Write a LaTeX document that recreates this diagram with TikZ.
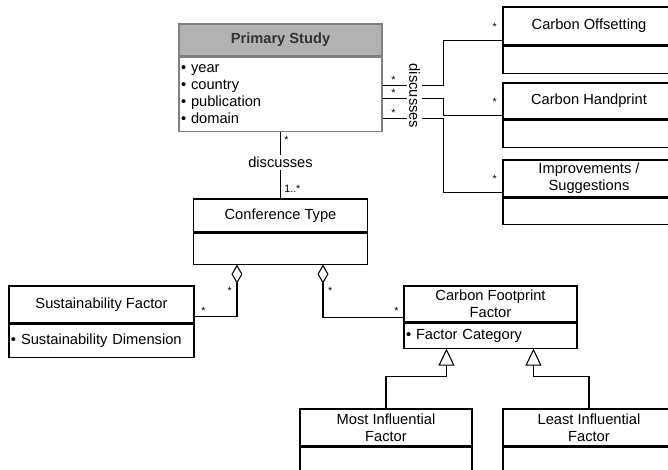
\documentclass[tikz,border=0pt]{standalone}
\usepackage{fontspec}
\setmainfont{Liberation Sans}
\usetikzlibrary{positioning, fit, calc, arrows.meta}
\definecolor{studygray}{RGB}{178,178,178}
\definecolor{studyframe}{RGB}{128,128,128}
\tikzset{
    classhead/.style={draw, inner sep=0pt, align=center, font=\fontsize{11}{12.75}\selectfont},
    classbody/.style={draw, anchor=north, inner xsep=1.5pt, inner ysep=0pt, align=left, font=\fontsize{11}{12.75}\selectfont},
    mult/.style={font=\fontsize{8}{9}\selectfont, inner sep=1.5pt},
    rolename/.style={fill=white, inner sep=1.5pt, font=\fontsize{11}{12.75}\selectfont},
    aggr/.style={arrows={Diamond[open, length=14.25pt, width=8.25pt]-}},
    inherit/.style={arrows={-Triangle[open, length=12.75pt, width=12pt]}},
}

\begin{document}
\begin{tikzpicture}[x=0.75pt, y=-0.75pt, line width=0.8pt]
        \useasboundingbox (0,0) rectangle (668,469);
        \clip (0,0) rectangle (668,469);

        % classes
        \node [classhead, draw=studyframe, fill=studygray, minimum width=152.25pt, minimum height=24pt, font=\fontsize{11}{12.75}\selectfont\bfseries, text=black!80] (psh) at (280.5, 40) {Primary Study};
        \node [classbody, draw=studyframe, text width=149.25pt, minimum height=55.5pt] (psb) at (psh.south) {• year\\• country\\• publication\\• domain};

        \node [classhead, minimum width=130.5pt, minimum height=24.75pt] (cth) at (280.5, 215.5) {Conference Type};
        \node [classbody, minimum width=130.5pt, minimum height=23.25pt] (ctb) at (cth.south) {};

        \node [classhead, minimum width=129pt, minimum height=28.5pt] (coh) at (589, 26) {Carbon Offsetting};
        \node [classbody, minimum width=129pt, minimum height=20.25pt] (cob) at (coh.south) {};
        \node [fit=(coh)(cob), inner sep=0pt] (co) {};

        \node [classhead, minimum width=129pt, minimum height=27pt] (chh) at (589, 101) {Carbon Handprint};
        \node [classbody, minimum width=129pt, minimum height=20.25pt] (chb) at (chh.south) {};
        \node [fit=(chh)(chb), inner sep=0pt] (ch) {};

        \node [classhead, minimum width=129pt, minimum height=27.75pt] (ish) at (589, 178.5) {Improvements /\\Suggestions};
        \node [classbody, minimum width=129pt, minimum height=19.5pt] (isb) at (ish.south) {};
        \node [fit=(ish)(isb), inner sep=0pt] (is) {};

        \node [classhead, minimum width=138.75pt, minimum height=27.75pt] (sfh) at (101.5, 304.5) {Sustainability Factor};
        \node [classbody, text width=135.75pt, minimum height=24.75pt] (sfb) at (sfh.south) {• Sustainability Dimension};
        \node [fit=(sfh)(sfb), inner sep=0pt] (sf) {};

        \node [classhead, minimum width=129.75pt, minimum height=27pt] (cffh) at (490.5, 304) {Carbon Footprint\\Factor};
        \node [classbody, text width=126.75pt, minimum height=18.75pt] (cffb) at (cffh.south) {• Factor Category};
        \node [fit=(cffh)(cffb), inner sep=0pt] (cff) {};

        \node [classhead, minimum width=129pt, minimum height=27.75pt] (mih) at (386, 427.5) {Most Influential\\Factor};
        \node [classbody, minimum width=129pt, minimum height=25.5pt] (mib) at (mih.south) {};

        \node [classhead, minimum width=129pt, minimum height=27.75pt] (lih) at (589, 427.5) {Least Influential\\Factor};
        \node [classbody, minimum width=129pt, minimum height=25.5pt] (lib) at (lih.south) {};

        % associations
        \draw (psb.south) -- node [mult, pos=0.12, right=1pt] {*} node [rolename, pos=0.46] {discusses} node [mult, pos=0.86, right=1pt] {1..*} (cth.north);

        \draw ($(psb.north east)+(0,29)$) -- node [mult, pos=0.18, above] {*} ++(61,0) |- node [mult, pos=1, above left=5pt and 2pt] {*} (co.west);
        \draw ($(psb.north east)+(0,42)$) -- node [mult, pos=0.18, above] {*} ++(61,0) |- node [mult, pos=1, above left=5pt and 2pt] {*} (ch.west);
        \draw ($(psb.north east)+(0,62)$) -- node [mult, pos=0.18, above] {*} ++(61,0) |- node [mult, pos=1, above left=5pt and 2pt] {*} (is.west);
        \node [rolename, rotate=-90] (dsc) at (414.5, 96) {discusses};

        % aggregations
        \draw [aggr] ($(ctb.south west)+(44,0)$) |- node [mult, pos=0.25, left=2pt] {*} node [mult, pos=0.9, above] {*} ($(sf.east)+(0,-5)$);
        \draw [aggr] ($(ctb.south west)+(130,0)$) |- node [mult, pos=0.25, right=2pt] {*} node [mult, pos=0.96, above] {*} (cff.west);

        % generalisations
        \draw [inherit] (mih.north) -- ++(0,-32) -| ($(cffb.south west)+(43,0)$);
        \draw [inherit] (lih.north) -- ++(0,-32) -| ($(cffb.south west)+(130,0)$);
    \end{tikzpicture}
\end{document}
